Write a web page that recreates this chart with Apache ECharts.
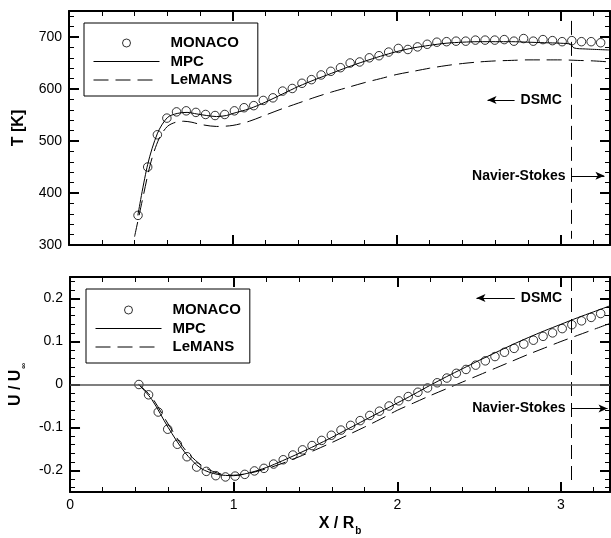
<!DOCTYPE html>
<html>
<head>
<meta charset="utf-8">
<script src="https://cdn.jsdelivr.net/npm/echarts@6/dist/echarts.min.js"></script>
<style>html,body{margin:0;padding:0;background:#fff}#c{width:611px;height:538px}</style>
</head>
<body>
<div id="c"></div>
<script>
// ---------- data ----------
const xMonaco = [0.421,0.480,0.539,0.597,0.656,0.715,0.774,0.833,0.891,0.950,1.009,1.068,1.127,1.185,1.244,1.303,1.362,1.421,1.479,1.538,1.597,1.656,1.715,1.773,1.832,1.891,1.950,2.009,2.067,2.126,2.185,2.244,2.303,2.361,2.420,2.479,2.538,2.597,2.655,2.714,2.773,2.832,2.891,2.949,3.008,3.067,3.126,3.185,3.243];
const tMonaco = [357,450,512,544,556,558,555,551,549,551,558,564,568,578,583,596,601,611,618,627,634,641,650,652,660,664,671,678,676,681,686,690,691,692,692,694,694,694,695,692,697,692,695,693,691,693,691,691,689];
const uMonaco = [0.000,-0.024,-0.064,-0.104,-0.139,-0.168,-0.192,-0.202,-0.212,-0.215,-0.213,-0.209,-0.201,-0.195,-0.185,-0.175,-0.164,-0.152,-0.142,-0.130,-0.118,-0.106,-0.095,-0.084,-0.072,-0.062,-0.050,-0.038,-0.028,-0.018,-0.008,0.004,0.015,0.026,0.035,0.045,0.055,0.065,0.075,0.084,0.094,0.103,0.112,0.120,0.130,0.139,0.148,0.156,0.165];

const xMpcT = [0.42,0.48,0.54,0.60,0.66,0.72,0.78,0.84,0.90,0.96,1.0,1.1,1.2,1.3,1.4,1.5,1.6,1.7,1.8,1.9,2.0,2.1,2.2,2.3,2.4,2.5,2.6,2.7,2.8,2.9,3.0,3.06,3.08,3.15,3.3];
const tMpc  = [357,455,515,545,553,555,552,549,547,549,553,562,575,590,605,618,630,642,653,663,672,679,684,688,690,691,691,691,690,689,688,686,679,677,675];

const xLeT = [0.40,0.45,0.50,0.55,0.60,0.65,0.70,0.75,0.80,0.90,1.0,1.1,1.2,1.3,1.4,1.5,1.6,1.7,1.8,1.9,2.0,2.1,2.2,2.3,2.4,2.5,2.6,2.7,2.8,2.9,3.0,3.1,3.2,3.3];
const tLe  = [316,390,460,505,528,536,538,536,532,528,530,538,550,562,573,584,594,603,612,620,628,634,640,645,649,652,654,655,656,656,656,655,654,652];

const xU   = [0.42,0.5,0.6,0.7,0.8,0.9,1.0,1.1,1.2,1.3,1.4,1.5,1.6,1.7,1.8,1.9,2.0,2.1,2.2,2.3,2.4,2.5,2.6,2.7,2.8,2.9,3.0,3.1,3.2,3.3];
const uMpc = [0.000,-0.035,-0.100,-0.157,-0.195,-0.209,-0.212,-0.205,-0.193,-0.177,-0.160,-0.142,-0.123,-0.103,-0.083,-0.063,-0.043,-0.023,-0.002,0.018,0.037,0.056,0.074,0.092,0.109,0.125,0.140,0.155,0.169,0.183];
const uLe  = [0.000,-0.030,-0.092,-0.150,-0.187,-0.206,-0.211,-0.206,-0.196,-0.183,-0.168,-0.152,-0.135,-0.117,-0.099,-0.080,-0.060,-0.043,-0.026,-0.010,0.006,0.022,0.038,0.054,0.070,0.085,0.100,0.114,0.128,0.142];

// tick values
const xMajor = [0,1,2,3];
const xMinor = [0.2,0.4,0.6,0.8,1.2,1.4,1.6,1.8,2.2,2.4,2.6,2.8,3.2];
const tMajor = [300,400,500,600,700];
const tMinor = [320,340,360,380,420,440,460,480,520,540,560,580,620,640,660,680,720,740];
const uMajor = [-0.2,-0.1,0,0.1,0.2];
const uMinor = [-0.24,-0.22,-0.18,-0.16,-0.14,-0.12,-0.08,-0.06,-0.04,-0.02,0.02,0.04,0.06,0.08,0.12,0.14,0.16,0.18,0.22,0.24];

// annotation positions (data coords)
const dsmcT = {from:[2.718,579], to:[2.553,579]};
const nsT   = {from:[3.065,433], to:[3.266,433]};
const dsmcU = {from:[2.718,0.201], to:[2.484,0.201]};
const nsU   = {from:[3.065,-0.056], to:[3.285,-0.056]};
const xInterface = 3.065;

const seriesNames = ['MONACO','MPC','LeMANS'];

// ---------- build ----------
const FONT = "'Liberation Sans', Arial, Helvetica, sans-serif";
const zip = (a,b) => a.map((v,i)=>[v,b[i]]);

function axis(dim, grid, min, max, pos, ticks, major, labels, extra) {
  const o = {
    type:'value', gridIndex:grid, min:min, max:max, position:pos,
    axisLine:{show:major, onZero:false, lineStyle:{color:'#000', width:2}},
    axisTick:{show:true, inside:true, length: major?10:5, customValues:ticks, lineStyle:{color:'#000', width: major?2:1}},
    axisLabel:{show:!!labels, customValues: ticks, color:'#000', fontFamily:FONT, fontSize:14, margin: dim==='x'?6:7},
    splitLine:{show:false}
  };
  return Object.assign(o, extra||{});
}

const nameStyleBase = {color:'#000', fontFamily:FONT, fontWeight:'bold', fontSize:16};

const xAxes = [
  axis('x',0,0,3.3,'bottom',xMajor,true,false),
  axis('x',1,0,3.3,'bottom',xMajor,true,true,{
    name:'{a|X / R}{s|b}', nameLocation:'middle', nameGap:24,
    nameTextStyle:{rich:{a:Object.assign({},nameStyleBase), s:Object.assign({},nameStyleBase,{fontSize:10, verticalAlign:'bottom', padding:[0,0,-4,1]})}}
  }),
  axis('x',0,0,3.3,'bottom',xMinor,false,false),
  axis('x',1,0,3.3,'bottom',xMinor,false,false),
  axis('x',0,0,3.3,'top',xMajor,true,false),
  axis('x',0,0,3.3,'top',xMinor,false,false),
  axis('x',1,0,3.3,'top',xMajor,true,false),
  axis('x',1,0,3.3,'top',xMinor,false,false)
];
const yAxes = [
  axis('y',0,300,750,'left',tMajor,true,true,{
    name:'T [K]', nameLocation:'middle', nameGap:42, nameTextStyle:Object.assign({},nameStyleBase)
  }),
  axis('y',1,-0.25,0.25,'left',uMajor,true,true,{
    name:'{a|U / U}{s|∞}', nameLocation:'middle', nameGap:42,
    nameTextStyle:{rich:{a:Object.assign({},nameStyleBase), s:Object.assign({},nameStyleBase,{fontSize:8, verticalAlign:'bottom', padding:[0,0,-4,1]})}}
  }),
  axis('y',0,300,750,'left',tMinor,false,false),
  axis('y',1,-0.25,0.25,'left',uMinor,false,false),
  axis('y',0,300,750,'right',tMajor,true,false),
  axis('y',0,300,750,'right',tMinor,false,false),
  axis('y',1,-0.25,0.25,'right',uMajor,true,false),
  axis('y',1,-0.25,0.25,'right',uMinor,false,false)
];

const annLabel = {show:true, color:'#000', fontFamily:FONT, fontWeight:'bold', fontSize:14, distance:6};
function arrow(a, text) {
  return [
    {coord:a.from, symbol:'none', label:Object.assign({}, annLabel, {formatter:text, position:'start'}),
     lineStyle:{color:'#000', width:1, type:'solid'}},
    {coord:a.to, symbol:'arrow', symbolSize:[6,9]}
  ];
}
function vline(y1, y2) {
  return [
    {coord:[xInterface,y1], symbol:'none', label:{show:false}, lineStyle:{color:'#000', width:1, type:[14,7]}},
    {coord:[xInterface,y2], symbol:'none'}
  ];
}

const scatterStyle = {color:'rgba(255,255,255,0)', borderColor:'#000', borderWidth:1};
function scatter(g, ys) {
  return {name:seriesNames[0], type:'scatter', xAxisIndex:g, yAxisIndex:g, data:zip(xMonaco, ys),
    symbol:'circle', symbolSize:8.5, itemStyle:scatterStyle, z:4, silent:true};
}
function line(name, g, xs, ys, dashed, mark) {
  const s = {name:name, type:'line', xAxisIndex:g, yAxisIndex:g, data:zip(xs, ys), smooth:0.3,
    symbol:'none', showSymbol:false, silent:true, z:3,
    itemStyle:{color:'#000'},
    lineStyle:{color:'#000', width:1, type: dashed ? [15,7] : 'solid'}};
  if (mark) s.markLine = {silent:true, symbol:['none','none'], animation:false, data:mark, label:{show:false}};
  return s;
}

const noSym = {color:'rgba(0,0,0,0)', borderWidth:0, opacity:0};
const legendBase = {
  orient:'vertical', itemWidth:66, itemHeight:8, itemGap:2.5,
  backgroundColor:'#fff', borderColor:'#000', borderWidth:1, borderRadius:0,
  textStyle:{color:'#000', fontFamily:FONT, fontWeight:'bold', fontSize:15, lineHeight:16, padding:[0,0,0,6]},
  data:[
    {name:'MONACO', itemStyle:{color:'rgba(255,255,255,0)', borderColor:'#000', borderWidth:1}},
    {name:'MPC', itemStyle:noSym, lineStyle:{width:1, color:'#000', type:'solid'}},
    {name:'LeMANS', itemStyle:noSym, lineStyle:{width:1, color:'#000', type:[15,7]}}
  ],
  selectedMode:false
};

const option = {
  animation:false,
  backgroundColor:'#fff',
  grid:[
    {left:69, right:1, top:11, height:234},
    {left:69, right:1, top:277, height:215}
  ],
  xAxis:xAxes,
  yAxis:yAxes,
  legend:[
    Object.assign({}, legendBase, {left:84, top:23, padding:[12,19,8,9]}),
    Object.assign({}, legendBase, {left:86, top:289, padding:[13,9,8,9]})
  ],
  series:[
    scatter(0, tMonaco),
    line('MPC', 0, xMpcT, tMpc, false, [arrow(dsmcT,'DSMC'), arrow(nsT,'Navier-Stokes'), vline(731,312)]),
    line('LeMANS', 0, xLeT, tLe, true),
    scatter(1, uMonaco),
    line('MPC', 1, xU, uMpc, false, [arrow(dsmcU,'DSMC'), arrow(nsU,'Navier-Stokes'), vline(0.25,-0.235),
      [{coord:[0,0], symbol:'none', label:{show:false}, lineStyle:{color:'#555', width:1.5, type:'solid'}}, {coord:[3.3,0], symbol:'none'}]]),
    line('LeMANS', 1, xU, uLe, true)
  ]
};

const chart = echarts.init(document.getElementById('c'), null, {renderer:'canvas'});
chart.setOption(option);
</script>
</body>
</html>
